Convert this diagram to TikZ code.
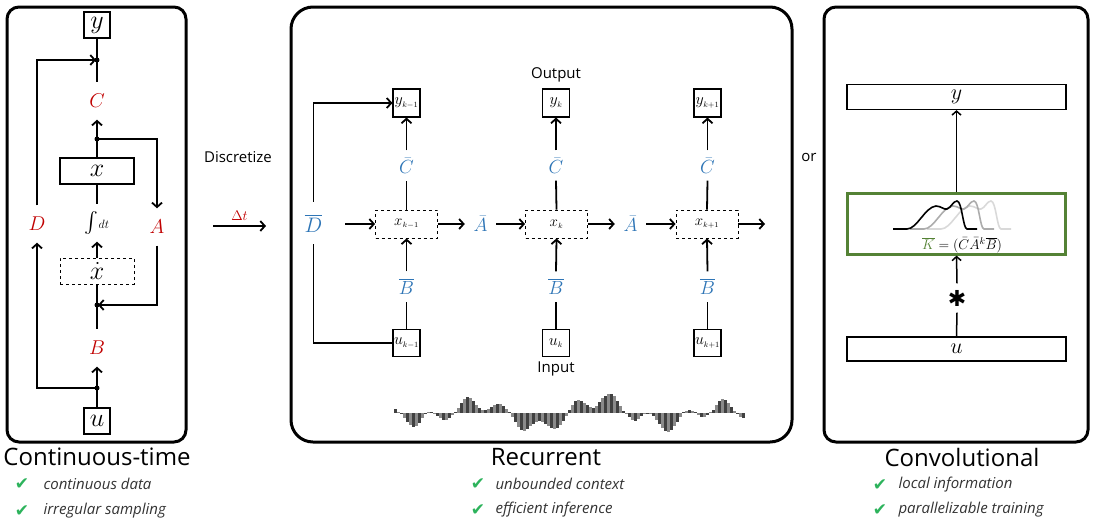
\documentclass[tikz,border=0pt]{standalone}
\usepackage{fix-cm}
\usepackage{exscale}
\usepackage{fontspec}
\setmainfont{Open Sans}
\newfontfamily\symfont{DejaVu Sans}
\usetikzlibrary{arrows.meta}
\definecolor{sred}{HTML}{C00000}
\definecolor{sblue}{HTML}{2E75B6}
\definecolor{sgreen}{HTML}{548235}
\definecolor{chk}{HTML}{2DB35C}
\definecolor{wdark}{HTML}{404040}
\definecolor{wlight}{HTML}{8A8A8A}
\definecolor{txtgray}{HTML}{333333}
\begin{document}
\begin{tikzpicture}[x=1pt,y=-1pt,
  panel/.style={draw, line width=3pt, rounded corners=12pt},
  arr/.style={line width=1.8pt, -{Straight Barb[length=4.5pt,width=10pt]}},
  ln/.style={line width=1.8pt},
  arrtwo/.style={line width=1.5pt, -{Straight Barb[length=4pt,width=9pt]}},
  lntwo/.style={line width=1.5pt},
  box/.style={draw, line width=1.2pt, minimum width=26pt, minimum height=26pt, inner sep=0pt, fill=white, font=\fontsize{26}{26}\selectfont},
  sbox/.style={draw, line width=1.1pt, minimum width=27pt, minimum height=28pt, inner sep=0pt, fill=white, font=\fontsize{16}{16}\selectfont},
  dbox/.style={draw, dashed, line width=0.9pt, minimum width=62pt, minimum height=28pt, inner sep=0pt, fill=white, font=\fontsize{15}{15}\selectfont},
  lab/.style={minimum height=37pt, minimum width=14pt, inner sep=0pt, font=\fontsize{20}{20}\selectfont},
  blab/.style={minimum height=30pt, minimum width=31pt, inner sep=0pt, text=sblue, font=\fontsize{19}{19}\selectfont},
  dot/.style={circle, fill, inner sep=0pt, minimum size=5pt},
  wide/.style={draw, line width=1.2pt, minimum width=219pt, minimum height=25pt, inner sep=0pt, font=\fontsize{22}{22}\selectfont},
  title/.style={font=\fontsize{24}{24}\selectfont},
  plain/.style={font=\fontsize{15}{15}\selectfont},
  chkm/.style={text=chk, font=\symfont\fontsize{17}{17}\selectfont},
  item/.style={anchor=west, text=txtgray, font=\itshape\fontsize{15}{15}\selectfont}
]
\useasboundingbox (0,0) rectangle (1093,523);

% ---------------- Left panel: continuous-time ----------------
\draw[panel] (7,7) rectangle (186,442);
\node[box] (ly) at (97,25) {$y$};
\coordinate (j1) at (97,60);
\node[lab,text=sred] (lC) at (97,101) {$C$};
\coordinate (j2) at (97,139);
\node[box, minimum width=74pt] (lx) at (97,171) {$x$};
\node[lab, font=\fontsize{22}{22}\selectfont] (lint) at (97,223) {$\int$\fontsize{12}{12}\selectfont$dt$};
\node[lab,text=sred] (lD) at (37,224) {$D$};
\node[lab,text=sred] (lA) at (157,227) {$A$};
\node[box, dashed, line width=0.9pt, minimum width=74pt] (lxd) at (97,271) {$\dot x$};
\coordinate (j3) at (97,305);
\node[lab,text=sred] (lB) at (97,348) {$B$};
\coordinate (j4) at (97,388);
\node[box] (lu) at (97,421) {$u$};

\draw[ln] (ly.south) -- (lC.north);
\draw[ln] (lx.north) -- (j2);
\draw[arr] (j2) -- (lC.south);
\draw[arr] (j2) -| (lA.north);
\draw[ln] (lx.south) -- (lint.north);
\draw[arr] (lxd.north) -- (lint.south);
\draw[ln] (lxd.south) -- (j3);
\draw[arr, shorten >=1pt] (lA.south) |- (j3);
\draw[ln] (j3) -- (lB.north);
\draw[ln] (lu.north) -- (j4);
\draw[arr] (j4) -- (lB.south);
\draw[arr] (j4) -| (lD.south);
\draw[arr, shorten >=1pt] (lD.north) |- (j1);
\foreach \p in {j1,j2,j3,j4} \node[dot] at (\p) {};

\node[title] (t1) at (97,457) {Continuous-time};
\node[chkm] (c1a) at (22,484) {✔};
\node[item] (i1a) at (40,484) {continuous data};
\node[chkm] (c1b) at (22,511) {✔};
\node[item] (i1b) at (40,511) {irregular sampling};

% ---------------- Discretize ----------------
\node[plain] (disc) at (238,157) {Discretize};
\coordinate (da) at (213,226);
\coordinate (db) at (266,226);
\draw[arr] (da) -- (db) node[midway, above=1pt, text=sred, font=\fontsize{14}{14}\selectfont] {$\Delta t$};

% ---------------- Middle panel: recurrent ----------------
\draw[panel, rounded corners=22pt] (291,7) rectangle (792,442);
\node[plain] (outl) at (556,75) {Output};
\node[plain] (inl) at (556,369) {Input};

\node[sbox] (my1) at (406.5,103) {$y_{\scriptscriptstyle k{-}1}$};
\node[sbox] (my2) at (556,103) {$y_{\scriptscriptstyle k}$};
\node[sbox] (my3) at (707.5,103) {$y_{\scriptscriptstyle k{+}1}$};
\node[blab] (mC1) at (406.5,165.5) {$\bar C$};
\node[blab] (mC2) at (556,165.5) {$\bar C$};
\node[blab] (mC3) at (707.5,165.5) {$\bar C$};
\node[dbox] (mx1) at (406.5,224) {$x_{\scriptscriptstyle k{-}1}$};
\node[dbox] (mx2) at (556.5,224) {$x_{\scriptscriptstyle k}$};
\node[dbox] (mx3) at (707,224) {$x_{\scriptscriptstyle k{+}1}$};
\node[blab] (mB1) at (406.5,286.5) {$\overline{B}$};
\node[blab] (mB2) at (556,286.5) {$\overline{B}$};
\node[blab] (mB3) at (707.5,286.5) {$\overline{B}$};
\node[sbox, minimum height=27pt] (mu1) at (406.5,343) {$u_{\scriptscriptstyle k{-}1}$};
\node[sbox, minimum height=27pt] (mu2) at (556,343) {$u_{\scriptscriptstyle k}$};
\node[sbox, minimum height=27pt] (mu3) at (707.5,343) {$u_{\scriptscriptstyle k{+}1}$};
\node[blab, minimum height=42pt, font=\fontsize{21}{21}\selectfont] (mD) at (313.5,223) {$\overline{D}$};
\node[blab] (mA1) at (480.5,224) {$\bar A$};
\node[blab] (mA2) at (630.5,224) {$\bar A$};
\coordinate (in0) at (345,224);
\coordinate (out3) at (765,224);

\foreach \i in {1,2,3} {
  \draw[ln] (mx\i.north) -- (mC\i.south);
  \draw[arr] (mC\i.north) -- (my\i.south);
  \draw[ln] (mu\i.north) -- (mB\i.south);
  \draw[arr] (mB\i.north) -- (mx\i.south);
}
\draw[arr] (in0) -- (mx1.west);
\draw[arr] (mx1.east) -- (mA1.west);
\draw[arr] (mA1.east) -- (mx2.west);
\draw[arr] (mx2.east) -- (mA2.west);
\draw[arr] (mA2.east) -- (mx3.west);
\draw[arr] (mx3.east) -- (out3);
\draw[arr] (mD.north) |- (my1.west);
\draw[ln] (mD.south) |- (mu1.west);

% input signal
\foreach \h [count=\i from 0] in {4,1,-1,-5,-9,-12,-14,-13,-10,-5,-1,1,1,-1,-3,-5,-7,-7,-5,-2,1,5,10,14,16,15,12,8,5,3,3,4,6,8,9,9,7,4,1,-4,-9,-14,-17,-18,-16,-13,-11,-9,-8,-9,-11,-13,-15,-16,-15,-12,-8,-3,3,8,12,13,12,10,8,6,5,7,11,15,17,19,19,17,12,7,2,-1,-4,-7,-8,-6,-3,-1,-1,-1,-3,-7,-11,-15,-18,-19,-17,-13,-9,-4,1,2,3,2,1,-2,-4,-4,-2,1,3,8,12,14,13,10,6,2,-1,-4,-5} {
  \pgfmathsetmacro\xx{394+3*\i}
  \ifodd\i \def\barcol{wlight}\else\def\barcol{wdark}\fi
  \fill[\barcol] (\xx,413) rectangle ++(3,-\h);
}

\node[title] (t2) at (546,457) {Recurrent};
\node[chkm] (c2a) at (478,484) {✔};
\node[item] (i2a) at (492,484) {unbounded context};
\node[chkm] (c2b) at (478,510) {✔};
\node[item] (i2b) at (492,510) {efficient inference};

\node[plain] (orl) at (809,157) {or};

% ---------------- Right panel: convolutional ----------------
\draw[panel] (824,7) rectangle (1088,442);
\node[wide] (ry) at (956.5,97) {$y$};
\node[draw=sgreen, line width=2.2pt, minimum width=218pt, minimum height=61pt, inner sep=0pt] (rk) at (956.5,224) {};
\foreach \s/\cl in {34/gray!30, 17/gray!65, 0/black} {
  \draw[draw=\cl, line width=1.6pt, xshift=\s pt]
    (893,229) -- (907,229) .. controls (917,229) and (925,207) .. (936,206)
    .. controls (941,206) and (944,210) .. (947,209)
    .. controls (951,208) and (953,201) .. (957,201)
    .. controls (962,201) and (963,229) .. (967,229) -- (977,229);
}
\node[font=\fontsize{14}{14}\selectfont] (kf) at (962,245) {$\textcolor{sgreen}{\overline{K}} = (\bar C\bar A^k\overline{B})$};
\node[minimum height=29pt, inner sep=0pt, font=\symfont\fontsize{22}{22}\selectfont] (ast) at (957,298) {✱};
\node[wide, minimum height=24pt] (ru) at (956.5,349) {$u$};
\draw[arrtwo] (rk.north) -- (ry.south);
\draw[arrtwo] (ast.north) -- (rk.south);
\draw[lntwo] (ru.north) -- (ast.south);

\node[title] (t3) at (962,457) {Convolutional};
\node[chkm] (c3a) at (880,485) {✔};
\node[item] (i3a) at (895,485) {local information};
\node[chkm] (c3b) at (880,510) {✔};
\node[item] (i3b) at (895,510) {parallelizable training};
\end{tikzpicture}
\end{document}
